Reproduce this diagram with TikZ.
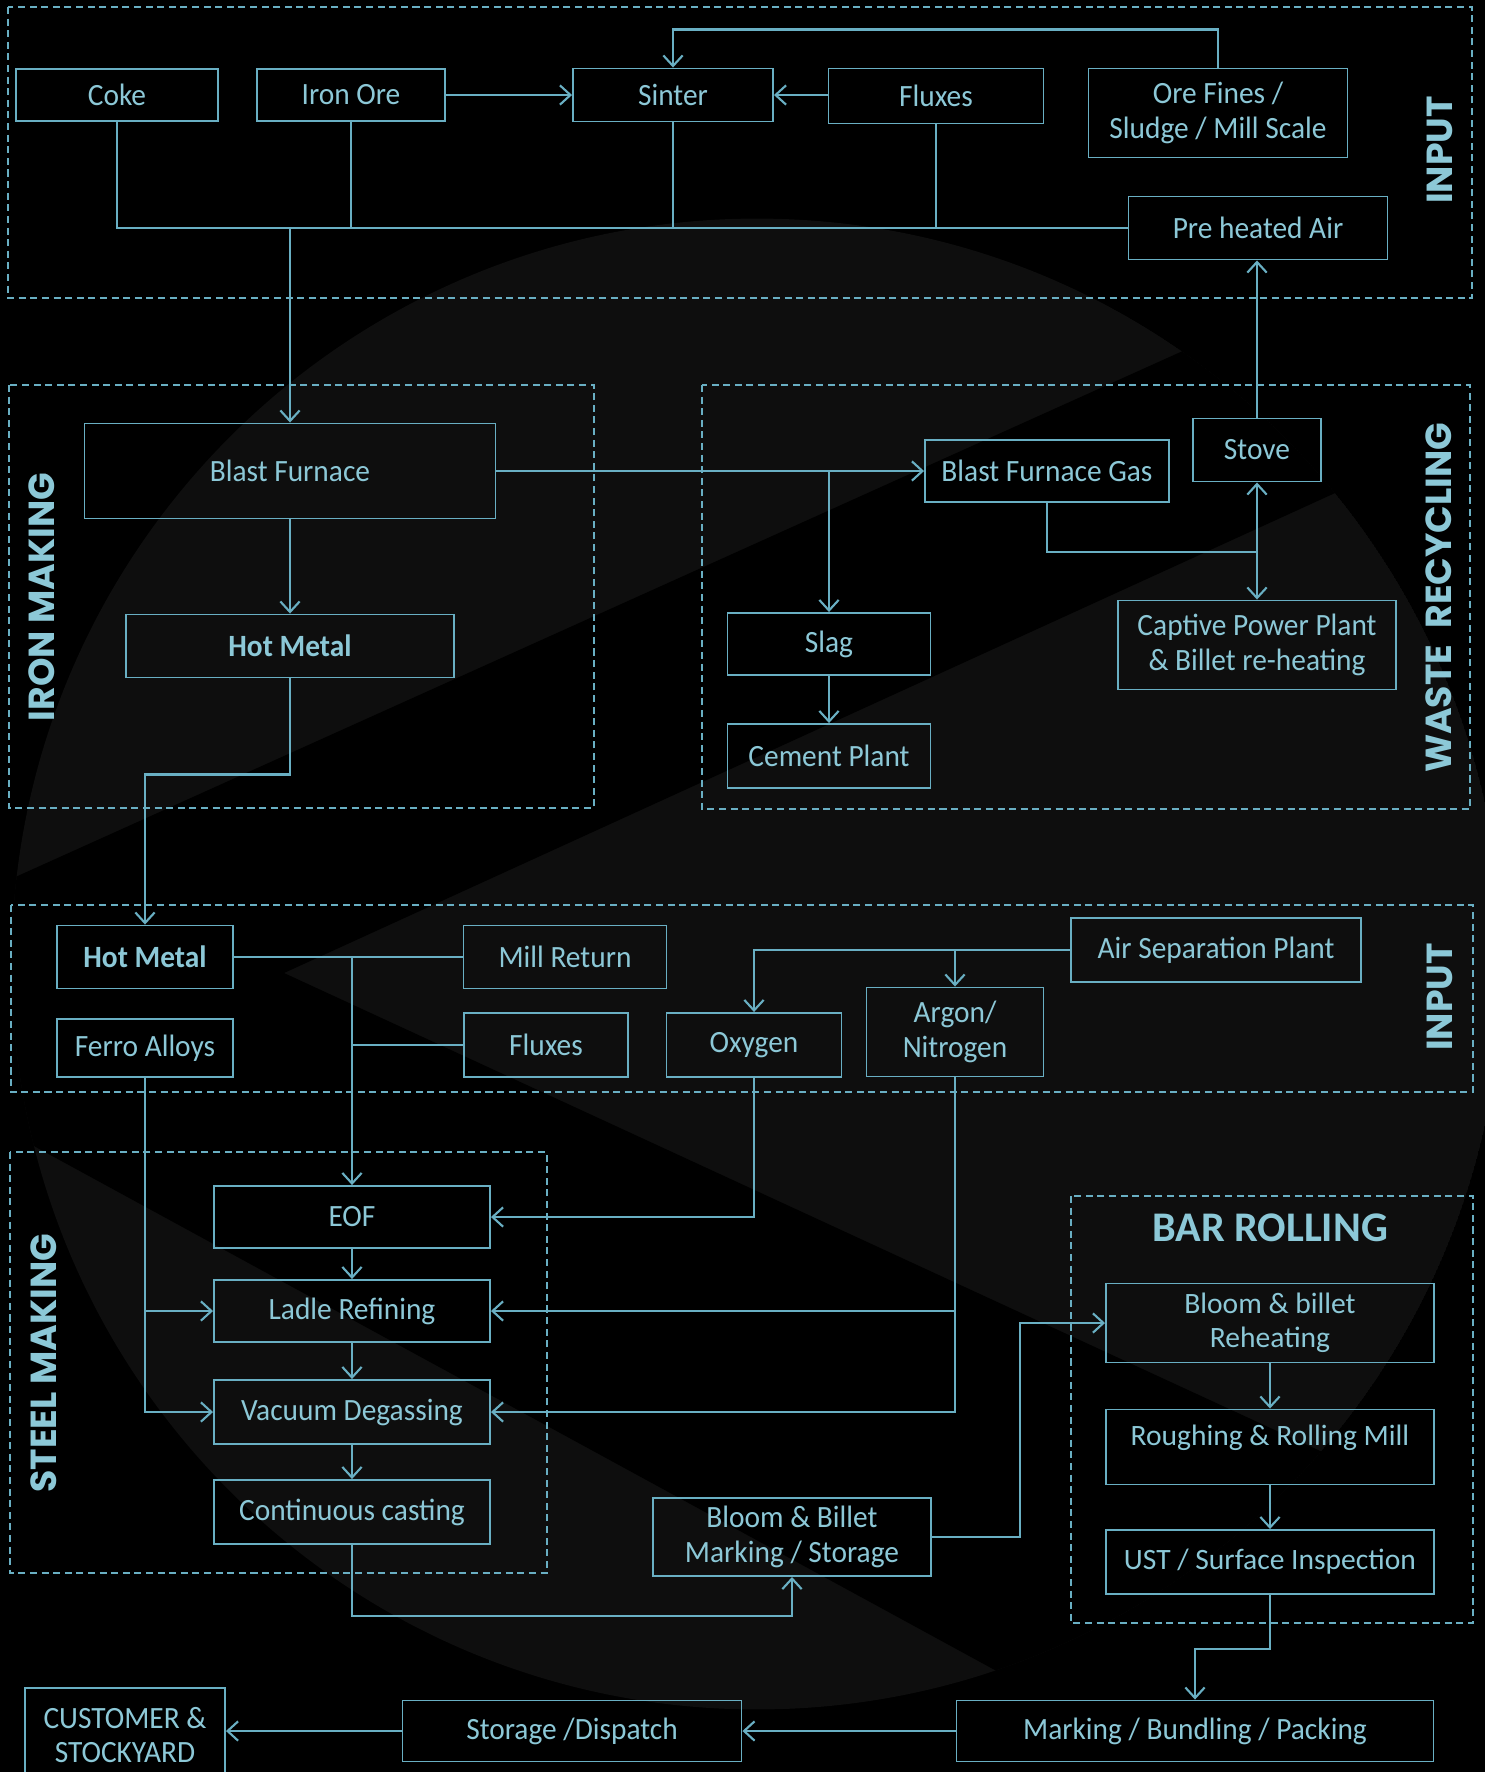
\documentclass[tikz,border=0pt]{standalone}
\usepackage{fontspec}
\usetikzlibrary{arrows.meta}
\newfontfamily\boxfont[FakeStretch=0.95]{Carlito}
\newfontfamily\rollfont{Carlito}
\newfontfamily\secfont{Poppins}
\definecolor{flowline}{RGB}{105,175,195}
\definecolor{flowtext}{RGB}{140,200,215}
\definecolor{logogrey}{RGB}{14,14,14}
\tikzset{
  boxdim/.style 2 args={minimum width=#1*0.01cm, minimum height=#2*0.01cm},
  stagebox/.style={draw=flowline, line width=0.55pt, text=flowtext, align=center, inner sep=1pt,
    font={\boxfont\fontsize{8.8}{9.8}\selectfont}},
  hotbox/.style={stagebox, font={\boxfont\bfseries\fontsize{8.8}{9.8}\selectfont}},
  rollbox/.style={stagebox, font={\rollfont\fontsize{8.4}{9.8}\selectfont}},
  zone/.style={draw=flowline, line width=0.45pt, dash pattern=on 2pt off 1.3pt},
  zonelabel/.style={text=flowtext, rotate=90, font={\secfont\bfseries\fontsize{10.3}{12}\selectfont}},
  rolltitle/.style={text=flowtext, font={\rollfont\bfseries\fontsize{12}{14}\selectfont}},
  flow/.style={draw=flowline, line width=0.6pt},
  feed/.style={flow, -{Straight Barb[length=3pt,width=5.5pt]}},
}

\begin{document}
\begin{tikzpicture}[x=0.01cm, y=-0.01cm]
\useasboundingbox (0,0) rectangle (1485,1772);
\fill[black] (0,0) rectangle (1485,1772);

% faint logo in the background
\begin{scope}
\clip (757,964) circle (7.45cm);
\fill[logogrey] (757,964) circle (7.45cm);
\fill[black] (-100,929) -- (1600,163) -- (1600,372) -- (284,973) -- (1600,1580)
  -- (1600,2000) -- (-100,1073) -- cycle;
\end{scope}

% zones
\draw[zone] (8,7) rectangle (1472,298);
\draw[zone] (9,385) rectangle (594,808);
\draw[zone] (702,385) rectangle (1470,809);
\draw[zone] (11,905) rectangle (1473,1092);
\draw[zone] (10,1152) rectangle (547,1573);
\draw[zone] (1071,1196) rectangle (1473,1623);

\node[zonelabel] (inputtop) at (1440,150) {INPUT};
\node[zonelabel] (ironlabel) at (42,597) {IRON MAKING};
\node[zonelabel] (wastelabel) at (1439,598) {WASTE\hspace{0.45em}RECYCLING};
\node[zonelabel] (inputmid) at (1440,997) {INPUT};
\node[zonelabel] (steellabel) at (44,1363) {STEEL MAKING};
\node[rolltitle] (rolllabel) at (1270,1228) {BAR ROLLING};

% input
\node[stagebox, boxdim={202}{52}] (coke) at (117,95) {Coke};
\node[stagebox, boxdim={188}{52}] (ironore) at (351,95) {Iron Ore};
\node[stagebox, boxdim={200}{53}] (sinter) at (673,95) {Sinter};
\node[stagebox, boxdim={215}{55}] (fluxtop) at (936,96) {Fluxes};
\node[stagebox, boxdim={259}{89}] (orefines) at (1218,113) {Ore Fines /\\Sludge / Mill Scale};
\node[stagebox, boxdim={259}{63}] (preair) at (1258,228) {Pre heated Air};

% iron making
\node[stagebox, boxdim={411}{95}] (furnace) at (290,471) {Blast Furnace};
\node[hotbox, boxdim={328}{63}] (hotiron) at (290,646) {Hot Metal};

% waste recycling
\node[stagebox, boxdim={244}{62}] (furnacegas) at (1047,471) {Blast Furnace Gas};
\node[stagebox, boxdim={128}{63}] (stove) at (1257,450) {Stove};
\node[stagebox, boxdim={203}{62}] (slag) at (829,644) {Slag};
\node[stagebox, boxdim={203}{64}] (cement) at (829,756) {Cement Plant};
\node[stagebox, boxdim={278}{89}] (captive) at (1257,645) {Captive Power Plant\\\& Billet re-heating};

% second input
\node[hotbox, boxdim={176}{63}] (hotsteel) at (145,957) {Hot Metal};
\node[stagebox, boxdim={176}{58}] (ferro) at (145,1048) {Ferro Alloys};
\node[stagebox, boxdim={203}{63}] (millreturn) at (565,957) {Mill Return};
\node[stagebox, boxdim={164}{64}] (fluxmid) at (546,1045) {Fluxes};
\node[stagebox, boxdim={175}{64}] (oxygen) at (754,1045) {Oxygen};
\node[stagebox, boxdim={177}{89}] (argon) at (955,1032) {Argon/\\Nitrogen};
\node[stagebox, boxdim={290}{64}] (airsep) at (1216,950) {Air Separation Plant};

% steel making
\node[stagebox, boxdim={276}{62}] (eof) at (352,1217) {EOF};
\node[stagebox, boxdim={276}{62}] (ladle) at (352,1311) {Ladle Refining};
\node[stagebox, boxdim={276}{64}] (vacuum) at (352,1412) {Vacuum Degassing};
\node[stagebox, boxdim={276}{64}] (casting) at (352,1512) {Continuous casting};
\node[stagebox, boxdim={278}{78}] (billetstore) at (792,1537) {Bloom \& Billet\\Marking / Storage};

% bar rolling
\node[rollbox, boxdim={328}{79}] (reheat) at (1270,1323) {Bloom \& billet\\Reheating};
\node[rollbox, boxdim={328}{75}] (rolling) at (1270,1447) {Roughing \& Rolling Mill\\[-3pt]\mbox{}};
\node[rollbox, boxdim={328}{64}] (inspect) at (1270,1562) {UST / Surface Inspection};

% dispatch
\node[stagebox, boxdim={477}{61}] (packing) at (1195,1731) {Marking / Bundling / Packing};
\node[stagebox, boxdim={339}{61}] (dispatch) at (572,1731) {Storage /Dispatch};
\node[stagebox, boxdim={200}{94}] (customer) at (125,1735) {CUSTOMER \&\\STOCKYARD};

% connectors: input
\draw[feed] (ironore.east) -- (sinter.west);
\draw[feed] (fluxtop.west |- sinter.east) -- (sinter.east);
\draw[feed] (orefines.north) -- ++(0,-38) -| (sinter.north);
\draw[flow] (coke.south) |- (preair.west);
\draw[flow] (ironore.south) -- (ironore.south |- preair.west);
\draw[flow] (sinter.south) -- (sinter.south |- preair.west);
\draw[flow] (fluxtop.south) -- (fluxtop.south |- preair.west);
\draw[feed] (furnace.north |- preair.west) -- (furnace.north);
\draw[feed] (stove.north) -- (stove.north |- preair.south);

% connectors: iron making and waste
\draw[feed] (furnace) -- (hotiron);
\draw[feed] (hotiron.south) -- ++(0,96) -| (hotsteel.north);
\draw[feed] (furnace.east) -- (furnacegas.west);
\draw[feed] (slag.north |- furnace.east) -- (slag.north);
\draw[feed] (slag) -- (cement);
\coordinate (gasjoin) at (1257,552);
\draw[flow] (furnacegas.south) |- (gasjoin);
\draw[feed] (gasjoin) -- (stove.south);
\draw[feed] (gasjoin) -- (captive.north);

% connectors: second input
\draw[flow] (hotsteel.east) -- (millreturn.west);
\draw[feed] (eof.north |- hotsteel.east) -- (eof.north);
\draw[flow] (fluxmid.west) -- (eof.north |- fluxmid.west);
\draw[feed] (airsep.west) -| (oxygen.north);
\draw[feed] (argon.north |- airsep.west) -- (argon.north);
\draw[feed] (oxygen.south) |- (eof.east);
\draw[feed] (argon.south) |- (vacuum.east);
\draw[feed] (argon.south |- ladle.east) -- (ladle.east);
\draw[feed] (ferro.south) |- (vacuum.west);
\draw[feed] (ferro.south |- ladle.west) -- (ladle.west);

% connectors: steel making and rolling
\draw[feed] (eof) -- (ladle);
\draw[feed] (ladle) -- (vacuum);
\draw[feed] (vacuum) -- (casting);
\draw[feed] (casting.south) -- ++(0,71) -| (billetstore.south);
\draw[feed] (billetstore.east) -- ++(88,0) |- (reheat.west);
\draw[feed] (reheat) -- (rolling);
\draw[feed] (rolling) -- (inspect);
\draw[feed] (inspect.south) -- ++(0,54) -| (packing.north);
\draw[feed] (packing.west) -- (dispatch.east);
\draw[feed] (dispatch.west) -- (dispatch.west -| customer.east);
\end{tikzpicture}
\end{document}
